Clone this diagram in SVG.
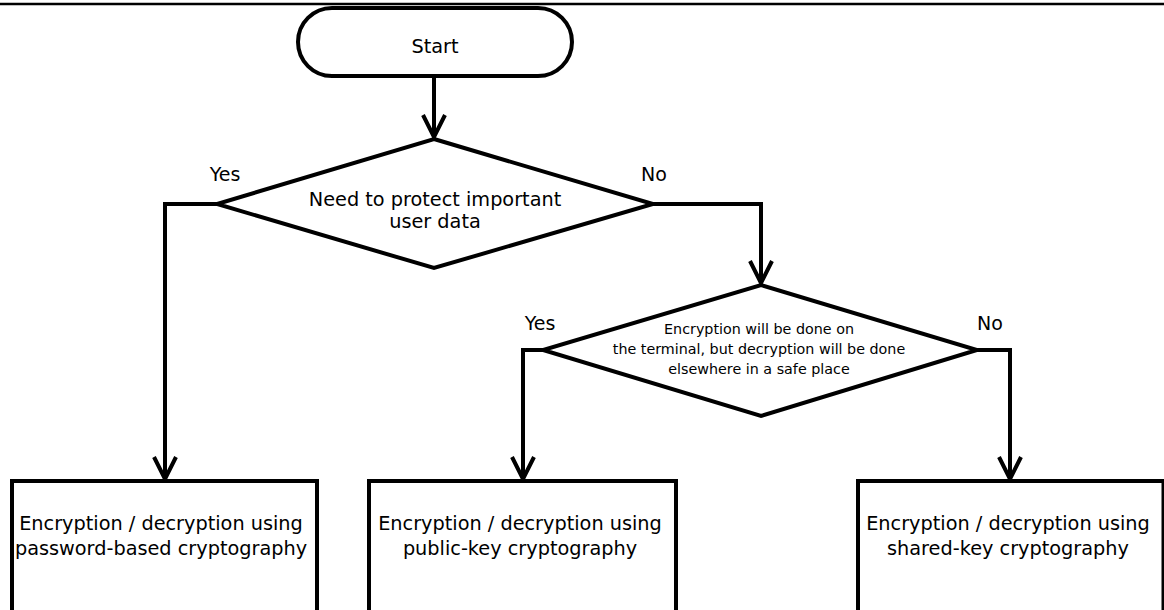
<svg xmlns="http://www.w3.org/2000/svg" width="1164" height="610" viewBox="0 0 1164 610">
<style>
.shape{fill:#fff;stroke:#000;stroke-width:4;stroke-linejoin:miter}
.conn{fill:none;stroke:#000;stroke-width:4;stroke-linejoin:miter}
text{font-family:"DejaVu Sans","Liberation Sans",sans-serif;fill:#000;text-anchor:middle}
.t20{font-size:19.3px}
.t15{font-size:14.3px}
.t18{font-size:19px}
</style>
<defs>
<marker id="arr" markerUnits="userSpaceOnUse" orient="auto" refX="0" refY="0" viewBox="-26 -15 30 30" markerWidth="30" markerHeight="30">
<path d="M-22 -11 L0 0 L-22 11" fill="none" stroke="#000" stroke-width="4"/>
</marker>
</defs>
<rect width="1164" height="610" fill="#fff"/>
<line x1="0" y1="4" x2="1164" y2="4" stroke="#000" stroke-width="2.5"/>
<g id="connectors">
<path class="conn" d="M434 78 V137" marker-end="url(#arr)"/>
<path class="conn" d="M217 204 H165 V479" marker-end="url(#arr)"/>
<path class="conn" d="M653 204 H761 V283" marker-end="url(#arr)"/>
<path class="conn" d="M543 350 H523 V479" marker-end="url(#arr)"/>
<path class="conn" d="M977 350 H1010 V479" marker-end="url(#arr)"/>
<text class="t18" x="225" y="181">Yes</text>
<text class="t18" x="654" y="181">No</text>
<text class="t18" x="540" y="330">Yes</text>
<text class="t18" x="990" y="330">No</text>
</g>
<g id="start">
<rect class="shape" x="298" y="8" width="274" height="68" rx="34" ry="34"/>
<text class="t20" x="435" y="53">Start</text>
</g>
<g id="decision1">
<polygon class="shape" points="434,139 653,204 434,268 217,204"/>
<text class="t20" x="435" y="206">Need to protect important</text>
<text class="t20" x="435" y="228">user data</text>
</g>
<g id="decision2">
<polygon class="shape" points="761,285 977,350 761,416 543,350"/>
<text class="t15" x="759" y="334">Encryption will be done on</text>
<text class="t15" x="759" y="354">the terminal, but decryption will be done</text>
<text class="t15" x="759" y="374">elsewhere in a safe place</text>
</g>
<g id="box-password">
<rect class="shape" x="12" y="481" width="305" height="140"/>
<text class="t20" x="161" y="530">Encryption / decryption using</text>
<text class="t20" x="161" y="555">password-based cryptography</text>
</g>
<g id="box-public">
<rect class="shape" x="369" y="481" width="307" height="140"/>
<text class="t20" x="520" y="530">Encryption / decryption using</text>
<text class="t20" x="520" y="555">public-key cryptography</text>
</g>
<g id="box-shared">
<rect class="shape" x="858" y="481" width="305.5" height="140"/>
<text class="t20" x="1008" y="530">Encryption / decryption using</text>
<text class="t20" x="1008" y="555">shared-key cryptography</text>
</g>
</svg>
